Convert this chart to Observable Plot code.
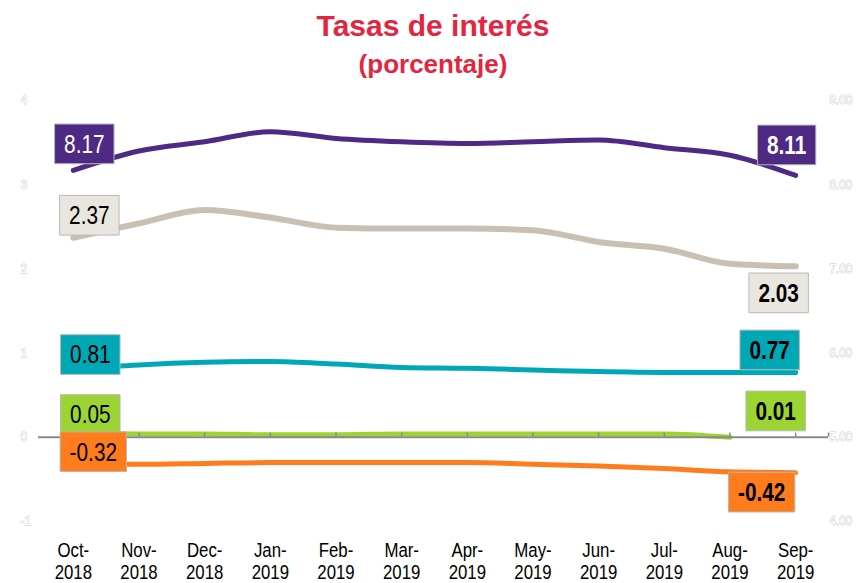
<!DOCTYPE html>
<html>
<head>
<meta charset="utf-8">
<script src="https://cdn.jsdelivr.net/npm/d3@7"></script>
<script src="https://cdn.jsdelivr.net/npm/@observablehq/plot@0.6"></script>
<style>
  body { margin: 0; background: #fff; width: 866px; height: 583px; overflow: hidden; }
  #title { height: 88px; text-align: center; color: #e4253f; font-family: "Liberation Sans", Arial, sans-serif; font-weight: bold; }
  #t1 { font-size: 30px; line-height: 30px; padding-top: 11px; }
  #t2 { font-size: 26px; line-height: 30px; padding-top: 8px; }
  #chart svg { display: block; overflow: visible; }
</style>
</head>
<body>
<div id="title"><div id="t1">Tasas de interés</div><div id="t2">(porcentaje)</div></div>
<div id="chart"></div>
<script>
// ---- data ----
const months = ["Oct-\n2018","Nov-\n2018","Dec-\n2018","Jan-\n2019","Feb-\n2019","Mar-\n2019","Apr-\n2019","May-\n2019","Jun-\n2019","Jul-\n2019","Aug-\n2019","Sep-\n2019"];
const purpleRight = [8.17, 8.40, 8.51, 8.63, 8.55, 8.51, 8.49, 8.51, 8.53, 8.44, 8.35, 8.11]; // right axis
const greySeries  = [2.37, 2.54, 2.70, 2.61, 2.49, 2.48, 2.48, 2.46, 2.32, 2.24, 2.06, 2.03];
const tealSeries  = [0.81, 0.86, 0.89, 0.90, 0.87, 0.83, 0.82, 0.80, 0.78, 0.77, 0.77, 0.77];
const greenSeries = [0.05, 0.04, 0.04, 0.03, 0.03, 0.04, 0.04, 0.04, 0.04, 0.04, 0.00, null];
const orangeSeries = [-0.32, -0.32, -0.31, -0.30, -0.30, -0.30, -0.30, -0.32, -0.34, -0.37, -0.41, -0.42];
const startLabels = [8.17, 2.37, 0.81, 0.05, -0.32];
const endLabels   = [8.11, 2.03, 0.77, 0.01, -0.42];
const leftTicks  = [-1, 0, 1, 2, 3, 4];
const rightTicks = ["4.00", "5.00", "6.00", "7.00", "8.00", "9.00"];
const rightOffset = 5; // right axis = left axis + 5

// ---- styles ----
const series = [
  {name: "purple", values: purpleRight, axis: "right", line: "#4e2a84", box: "#4e2a84", text: "white", width: 5},
  {name: "grey",   values: greySeries,   axis: "left", line: "#c9c0b3", box: "#e9e6e0", text: "black", width: 6},
  {name: "teal",   values: tealSeries,   axis: "left", line: "#00a7b5", box: "#00a7b5", text: "black", width: 5},
  {name: "green",  values: greenSeries,  axis: "left", line: "#9bd433", box: "#9bd433", text: "black", width: 5},
  {name: "orange", values: orangeSeries, axis: "left", line: "#ff7c1c", box: "#ff7c1c", text: "black", width: 5}
];
const startOffsets = [[11, -26], [16, -22], [17, -14], [17, -18], [20, -12]];
const endOffsets   = [[-9, -30], [-17, 27], [-26, -22], [-20, -25], [-34, 20]];
const sans = "'Liberation Sans', Arial, sans-serif";
const squeeze = 0.8; // horizontal compression to mimic a narrow face

const toLeft = (s, v) => v == null ? null : (s.axis === "right" ? v - rightOffset : v);

const lineRows = [];
series.forEach(s => s.values.forEach((v, i) => lineRows.push({s: s.name, i, v: toLeft(s, v)})));

const marks = [];
// axis tick labels (faint outlined)
marks.push(Plot.text(leftTicks, {y: d => d, text: d => String(d), frameAnchor: "left", dx: -18, fill: "white", stroke: "#c4c4c4", strokeWidth: 0.8, fontSize: 12, fontFamily: sans}));
marks.push(Plot.text(rightTicks, {y: d => +d - rightOffset, text: d => d, frameAnchor: "right", dx: 24, fill: "white", stroke: "#c4c4c4", strokeWidth: 0.8, fontSize: 12, fontFamily: sans}));
// x labels
marks.push(Plot.text(months, {x: (d, i) => i, text: d => d, frameAnchor: "bottom", lineAnchor: "top", dy: 19, fontSize: 21, lineHeight: 1.08, fill: "black", fontFamily: sans, ariaDescription: "narrow"}));
// lines
series.forEach(s => {
  marks.push(Plot.line(lineRows.filter(r => r.s === s.name), {x: "i", y: "v", stroke: s.line, strokeWidth: s.width, curve: "monotone-x", strokeLinecap: "round"}));
});
// zero axis with small upward ticks
marks.push(Plot.ruleY([0], {stroke: "#8a8a8a", strokeWidth: 2}));
marks.push(Plot.ruleX([...months.map((d, i) => i), 11.5], {x: d => d, y1: 0, y2: 0.05, stroke: "#8a8a8a", strokeWidth: 1.5}));
// labels
const boxInfo = {};
series.forEach((s, k) => {
  const sv = startLabels[k], ev = endLabels[k];
  boxInfo["lbl-s-" + k] = s; boxInfo["lbl-e-" + k] = s;
  marks.push(Plot.text([sv], {x: () => 0, y: d => toLeft(s, d), text: d => d.toFixed(2), dx: startOffsets[k][0], dy: startOffsets[k][1], fill: s.text, fontSize: 26, fontFamily: sans, ariaDescription: "lbl-s-" + k}));
  marks.push(Plot.text([ev], {x: () => 11, y: d => toLeft(s, d), text: d => d.toFixed(2), dx: endOffsets[k][0], dy: endOffsets[k][1], fill: s.text, fontSize: 26, fontWeight: "bold", fontFamily: sans, ariaDescription: "lbl-e-" + k}));
});

const chart = Plot.plot({
  width: 866, height: 495,
  marginLeft: 38, marginRight: 38, marginTop: 12, marginBottom: 62,
  x: {type: "linear", domain: [-0.53, 11.5], axis: null},
  y: {domain: [-1, 4], axis: null},
  style: {background: "white", overflow: "visible"},
  marks
});
document.getElementById("chart").appendChild(chart);

// compress a text element horizontally about its own anchor
function narrowText(el) {
  let tr = el.getAttribute("transform");
  if (!tr) {
    const x = +el.getAttribute("x") || 0, y = +el.getAttribute("y") || 0;
    el.removeAttribute("x"); el.removeAttribute("y");
    tr = `translate(${x},${y})`;
  }
  tr += ` scale(${squeeze},1)`;
  el.setAttribute("transform", tr);
  return tr;
}

d3.select(chart).selectAll("g[aria-description='narrow'] text").each(function() { narrowText(this); });

// background boxes behind labels, sized from the rendered text
d3.select(chart).selectAll("g[aria-description^='lbl-']").each(function() {
  const s = boxInfo[this.getAttribute("aria-description")];
  d3.select(this).selectAll("text").each(function() {
    const tr = narrowText(this);
    const bb = this.getBBox();
    const padX = 9.5 / squeeze, padY = 5.5;
    d3.select(this.parentNode).insert("rect", () => this)
      .attr("transform", tr)
      .attr("x", bb.x - padX).attr("y", bb.y - padY)
      .attr("width", bb.width + 2 * padX).attr("height", bb.height + 2 * padY)
      .attr("fill", s.box).attr("stroke", "#b8b8b8").attr("stroke-width", 1)
      .attr("vector-effect", "non-scaling-stroke");
  });
});
</script>
</body>
</html>
